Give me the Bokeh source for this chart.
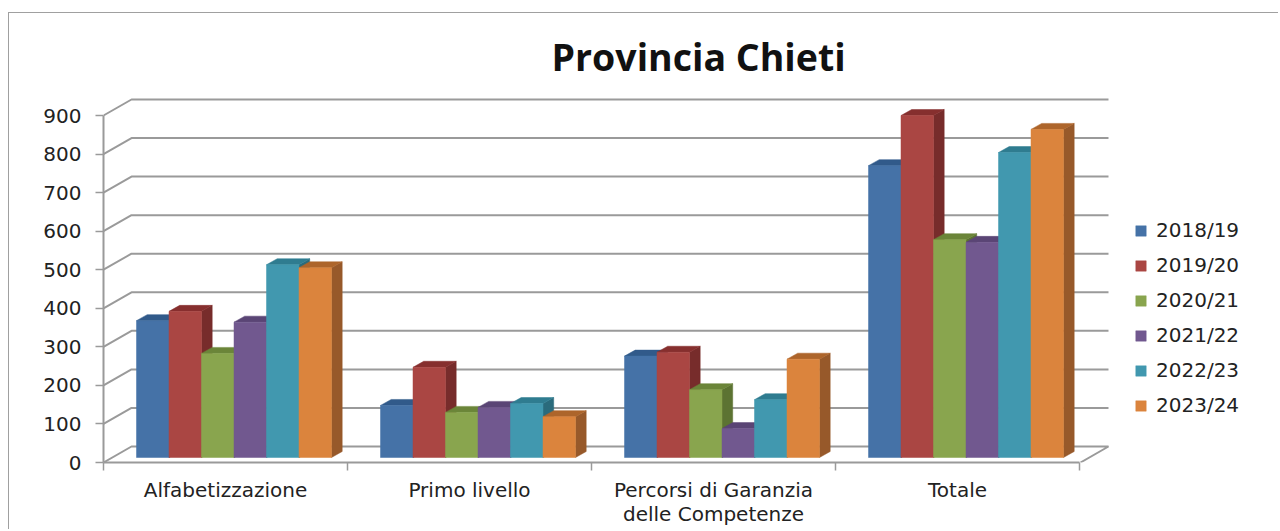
from bokeh.plotting import figure
from bokeh.models import (Range1d, LinearAxis, FixedTicker, Legend, LegendItem, ColumnDataSource,
                          Title)
from bokeh.embed import file_html
from bokeh.resources import INLINE

categories = ["Alfabetizzazione", "Primo livello", "Percorsi di Garanzia\ndelle Competenze", "Totale"]
years = ["2018/19", "2019/20", "2020/21", "2021/22", "2022/23", "2023/24"]
v2018 = [355, 135, 263, 757]
v2019 = [379, 234, 273, 887]
v2020 = [270, 117, 176, 565]
v2021 = [351, 130, 75, 558]
v2022 = [500, 140, 150, 791]
v2023 = [492, 106, 255, 851]
series = [v2018, v2019, v2020, v2021, v2022, v2023]
y_ticks = [0, 100, 200, 300, 400, 500, 600, 700, 800, 900]

front = ["#4572A7", "#AA4643", "#89A54E", "#71588F", "#4198AF", "#DB843D"]
side = ["#2C4D75", "#772C2B", "#5C7332", "#4D3B62", "#2A6B7C", "#97592A"]
top = ["#315A8A", "#862F2E", "#6B8539", "#5A4575", "#2F7C90", "#AD652B"]
GRID = "#9a9a9a"
TEXT = "#222222"

W, H = 1270, 517
FL, FB, FT = 94, 68, 77       # frame insets in the figure
PX_X = 244.0                  # pixels per category
PX_Y = 347.0 / 900            # pixels per unit
frame_w = W - FL
frame_h = H - FB - FT

p = figure(width=W, height=H, output_backend="svg", toolbar_location=None,
           x_axis_type=None, y_axis_type=None,
           x_range=Range1d(0, frame_w / PX_X), y_range=Range1d(0, frame_h / PX_Y),
           min_border_left=FL, min_border_right=0, min_border_bottom=FB, min_border_top=FT,
           outline_line_color=None, background_fill_color="white", border_fill_color="white")
p.margin = (12, 0, 0, 8)
p.styles = {"border-top": "1.5px solid #a0a0a0", "border-left": "1.5px solid #a0a0a0"}
p.grid.visible = False

p.title = Title(text="Provincia Chieti", align="left", offset=448, standoff=17,
                text_font="Open Sans", text_font_size="37.5px", text_font_style="bold",
                text_color="#111111")

# walls
DX, DY = 28 / PX_X, 16 / PX_Y
X_END = (1108 - 103) / PX_X
xs = [[0, DX, X_END] for _ in y_ticks]
ys = [[t, t + DY, t + DY] for t in y_ticks]
xs[0] = [0, DX, X_END, X_END - DX]
ys[0] = [0, DY, DY, 0]
p.multi_line(xs, ys, line_color=GRID, line_width=2)

# bars
BAR_W = 32.5 / PX_X
OFF = 33 / PX_X
BASE = 5 / PX_Y
SX, SY = 10.7 / PX_X, 6 / PX_Y
items = []
for i, vals in enumerate(series):
    lefts = [j + OFF + i * BAR_W for j in range(len(vals))]
    rights = [l + BAR_W for l in lefts]
    tops = [BASE + v for v in vals]
    bottoms = [BASE for _ in vals]
    p.patches([[r, r + SX, r + SX, r] for r in rights],
              [[BASE, BASE + SY, t + SY, t] for t in tops],
              fill_color=side[i], line_color=side[i], line_width=0.5)
    p.patches([[l, l + SX, r + SX, r] for l, r in zip(lefts, rights)],
              [[t, t + SY, t + SY, t] for t in tops],
              fill_color=top[i], line_color=top[i], line_width=0.5)
    src = ColumnDataSource(dict(left=lefts, right=rights, top=tops, bottom=bottoms))
    r = p.quad(left="left", right="right", top="top", bottom="bottom", source=src,
               fill_color=front[i], line_color=front[i], line_width=0.5)
    items.append(LegendItem(label=years[i], renderers=[r]))

# axes
yax = LinearAxis(ticker=FixedTicker(ticks=y_ticks), bounds=(0, 900),
                 axis_line_color=GRID, axis_line_width=2,
                 major_tick_line_color=GRID, major_tick_line_width=1.5,
                 major_tick_in=0, major_tick_out=8, minor_tick_line_color=None,
                 major_label_standoff=14, major_label_text_font="DejaVu Sans",
                 major_label_text_font_size="20px", major_label_text_color=TEXT)
p.add_layout(yax, "left")

centers = [j + 0.5 for j in range(len(categories))]
xax = LinearAxis(ticker=FixedTicker(ticks=centers, minor_ticks=[0, 1, 2, 3, 4]), bounds=(0, 4),
                 major_label_overrides=dict(zip(centers, categories)),
                 axis_line_color=GRID, axis_line_width=2,
                 major_tick_line_color=None, major_tick_in=0, major_tick_out=0,
                 minor_tick_line_color=GRID, minor_tick_line_width=1.5,
                 minor_tick_in=0, minor_tick_out=8,
                 major_label_standoff=7, major_label_text_font="DejaVu Sans",
                 major_label_text_font_size="20px", major_label_text_color=TEXT,
                 major_label_text_line_height=1.0)
p.add_layout(xax, "below")

legend = Legend(items=items, location=(1031, 45), orientation="vertical",
                glyph_width=13, glyph_height=13, label_standoff=9, spacing=11,
                label_height=20, padding=0, margin=0, border_line_color=None,
                background_fill_alpha=0, label_text_font="DejaVu Sans",
                label_text_font_size="20px", label_text_color=TEXT)
p.add_layout(legend, "center")

open("out.html", "w").write(file_html(p, INLINE))
